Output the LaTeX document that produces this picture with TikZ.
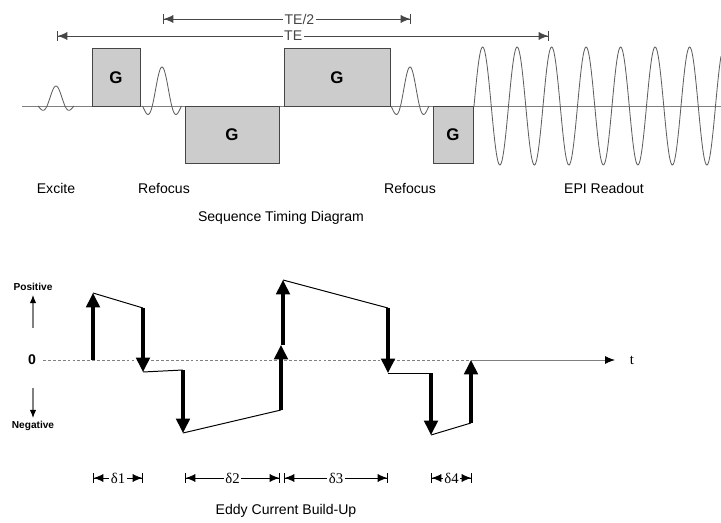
\documentclass[tikz,border=0pt]{standalone}
\usepackage{fontspec}
\setmainfont{Liberation Sans}
\newfontfamily\timesfont{Liberation Serif}
\usetikzlibrary{arrows.meta, positioning, calc}
\definecolor{cBox}{RGB}{204,204,204}
\definecolor{cEdge}{RGB}{70,70,70}
\definecolor{cWave}{RGB}{95,95,95}
\tikzset{
	gbox/.style    ={rectangle, draw=cEdge, fill=cBox, line width=0.7pt, inner sep=0pt, outer sep=0pt, minimum height=1.425cm, anchor=south west, font=\fontsize{12}{14}\selectfont\bfseries},
	wave/.style    ={draw=cWave, line width=0.6pt},
	dimline/.style ={{Bar[width=2.5mm]Latex[length=2.4mm,width=2mm]}-{Latex[length=2.4mm,width=2mm]Bar[width=2.5mm]}, cEdge, line width=0.5pt},
	lbl/.style     ={font=\fontsize{10}{12}\selectfont, inner sep=1pt},
	dlbl/.style    ={font=\timesfont\fontsize{10.5}{12}\selectfont, inner sep=1pt, fill=white},
	% eddy current plot styles
	pulse/.style   ={-{Triangle[length=3.6mm,width=3.4mm]}, line width=2.2pt},
	decay/.style   ={black, line width=0.7pt},
	axisline/.style={gray, line width=0.6pt},
	sense/.style   ={gray, line width=0.8pt, -{Latex[length=2mm,width=1.6mm,color=black]}},
}
\begin{document}
\begin{tikzpicture}[x=0.025cm, y=-0.025cm]
	\useasboundingbox (0,0) rectangle (721,523);
	% sequence timing diagram
	\draw[axisline] (22,106) -- (721,106);
	\draw[wave] plot[domain=-2:2, samples=60] ({56+9*\x}, {106-20*sin(180*\x)/(3.14159*\x)});
	\draw[wave] plot[domain=-2:2, samples=60] ({162+9.75*\x}, {106-39*sin(180*\x)/(3.14159*\x)});
	\draw[wave] plot[domain=-2:2, samples=60] ({410+9.5*\x}, {106-39*sin(180*\x)/(3.14159*\x)});
	\draw[wave] plot[domain=0:247, samples=300] ({474+\x}, {106-59*sin(10.435*\x)});
	\node[gbox, minimum width=1.2cm] (g1) at (92,106) {G};
	\node[gbox, minimum width=2.35cm, anchor=north west] (g2) at (185,106) {G};
	\node[gbox, minimum width=2.65cm] (g3) at (284,106) {G};
	\node[gbox, minimum width=1cm, anchor=north west] (g4) at (433,106) {G};
	\coordinate (te2a) at (163,19);
	\coordinate (te2b) at (411,19);
	\coordinate (tea) at (57,36);
	\coordinate (teb) at (549,36);
	\draw[dimline] (te2a) -- node[lbl, fill=white, pos=0.55] {TE/2} (te2b);
	\draw[dimline] (tea) -- node[lbl, fill=white, pos=0.48] {TE} (teb);
	\node[lbl] (excite) at (56,188) {Excite};
	\node[lbl] (refoc1) at (164,188) {Refocus};
	\node[lbl] (refoc2) at (410,188) {Refocus};
	\node[lbl] (epi) at (604,188) {EPI Readout};
	\node[lbl] (seqcap) at (281,218) {Sequence Timing Diagram};
	% eddy current build-up
	\node[font=\fontsize{7.2}{8}\selectfont\bfseries] (posv) at (33,287) {Positive};
	\node[font=\fontsize{7.2}{8}\selectfont\bfseries] (negv) at (33,426) {Negative};
	\node[font=\fontsize{10}{12}\selectfont\bfseries] (zero) at (32,360) {0};
	\coordinate (up0) at (33,328);
	\coordinate (up1) at (33,295);
	\coordinate (dn0) at (33,388);
	\coordinate (dn1) at (33,418);
	\draw[sense] (up0) -- (up1);
	\draw[sense] (dn0) -- (dn1);
	\coordinate (z0) at (43,360);
	\coordinate (z1) at (471,360);
	\coordinate (z2) at (615,360);
	\draw[axisline, dash pattern=on 2pt off 1.5pt] (z0) -- (z1);
	\draw[axisline, -{Latex[length=2.5mm,width=2mm,color=black]}] (z1) -- (z2);
	\node[font=\timesfont\fontsize{10.5}{12}\selectfont] (tlab) at (632,360) {t};
	\coordinate (e0) at (93,360);
	\coordinate (e1) at (93,293);
	\coordinate (e2) at (143,308);
	\coordinate (e3) at (143,372);
	\coordinate (e4) at (183,370);
	\coordinate (e5) at (183,433);
	\coordinate (e6) at (281,410);
	\coordinate (e7) at (281,345);
	\coordinate (e8) at (283,345);
	\coordinate (e9) at (283,280);
	\coordinate (e10) at (388,308);
	\coordinate (e11) at (388,373);
	\coordinate (e12) at (431,373);
	\coordinate (e13) at (431,435);
	\coordinate (e14) at (471,423);
	\coordinate (e15) at (471,360);
	\draw[decay] (e1) -- (e2);
	\draw[decay] (e3) -- (e4);
	\draw[decay] (e5) -- (e6);
	\draw[decay] (e9) -- (e10);
	\draw[decay] (e11) -- (e12);
	\draw[decay] (e13) -- (e14);
	\draw[pulse] (e0) -- (e1);
	\draw[pulse] (e2) -- (e3);
	\draw[pulse] (e4) -- (e5);
	\draw[pulse] (e6) -- (e7);
	\draw[pulse] (e8) -- (e9);
	\draw[pulse] (e10) -- (e11);
	\draw[pulse] (e12) -- (e13);
	\draw[pulse] (e14) -- (e15);
	\coordinate (d1a) at (93,478);
	\coordinate (d1b) at (143,478);
	\coordinate (d2a) at (185,478);
	\coordinate (d2b) at (280,478);
	\coordinate (d3a) at (284,478);
	\coordinate (d3b) at (388,478);
	\coordinate (d4a) at (431,478);
	\coordinate (d4b) at (472,478);
	\draw[dimline, black] (d1a) -- node[dlbl] {δ1} (d1b);
	\draw[dimline, black] (d2a) -- node[dlbl] {δ2} (d2b);
	\draw[dimline, black] (d3a) -- node[dlbl] {δ3} (d3b);
	\draw[dimline, black] (d4a) -- node[dlbl] {δ4} (d4b);
	\node[lbl] (eddycap) at (286,511) {Eddy Current Build-Up};
\end{tikzpicture}
\end{document}
